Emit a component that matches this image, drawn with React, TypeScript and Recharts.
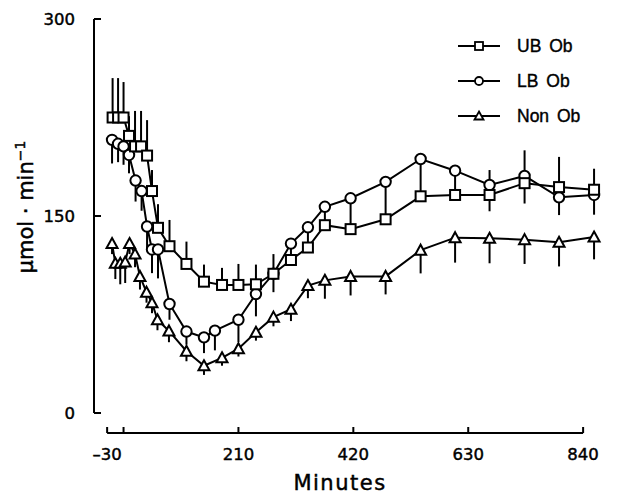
import React from 'react';
import { LineChart, Line, XAxis, YAxis, ErrorBar, ReferenceLine, Legend } from 'recharts';

// ---- data (minutes, µmol·min-1) ----
const ubTimes = [-20, -10, 0, 10, 21, 32, 43, 52, 63, 84, 115, 147, 180, 210, 242, 274, 306, 337, 368, 415, 479, 543, 606, 669, 733, 796, 860];
const ubMeans = [225, 225, 225, 211, 203, 203, 196, 169, 141, 127, 113.5, 100, 97.5, 97.5, 98, 106, 116.5, 126, 143, 140, 147.5, 165, 166, 166, 175, 172, 170];
const ubSE = [30, 30, 27, 15, 27, 27, 27, 16, 18, 20, 17, 13, 13, 16, 15, 15, 0, 0, 0, 0, 0, 31, 0, 19, 25, 23, 16];

const lbTimes = [-21, -10, 0, 10, 22, 33, 43, 52, 63, 84, 115, 147, 167, 210, 242, 274, 306, 337, 368, 415, 479, 543, 606, 669, 733, 796, 860];
const lbMeans = [208, 205, 203, 196.5, 177, 169, 142, 124.5, 124.5, 83, 62, 57.6, 62.7, 71, 90.6, 106, 129, 141.4, 157, 163.5, 176, 193.4, 184.5, 173.6, 180.5, 164.2, 166];
const lbSE = [18, 14, 14, 14, 16, 15, 17, 18, 22, 12, 10, 12, 15, 17, 17, 14, 12.7, 15.2, 14, 23.6, 28.7, 0, 18.5, 20, 21, 13.5, 15];

const nonTimes = [-21, -15, -6, 3, 11, 21, 30, 42, 52, 62, 83, 115, 147, 180, 210, 242, 274, 306, 337, 368, 415, 479, 543, 606, 669, 733, 796, 860];
const nonMeans = [129, 114, 114, 115, 129, 121, 104, 92, 84, 71, 62.5, 47, 36, 42, 49, 61.5, 73, 79, 97, 101, 104, 104, 124, 133.5, 133, 132, 130, 134];
const nonSE = [8, 12, 16, 16, 8, 10, 10, 8, 8, 8, 8.6, 7.6, 7, 6, 6, 6.4, 7, 9, 9.6, 14, 14.5, 13.7, 17.7, 19, 19, 18.5, 18.4, 17];

const xTicks = [-30, 0, 210, 420, 630, 840];
const xTickLabels = ['–30', '', '210', '420', '630', '840'];
const yTicks = [0, 150, 300];
const seriesNames = ['UB Ob', 'LB Ob', 'Non Ob'];
const xTitle = 'Minutes';

const ubData = ubTimes.map((t, i) => ({ t, v: ubMeans[i], err: [0, ubSE[i]] }));
const lbData = lbTimes.map((t, i) => ({ t, v: lbMeans[i], err: [lbSE[i], 0] }));
const nonData = nonTimes.map((t, i) => ({ t, v: nonMeans[i], err: [nonSE[i], 0] }));

const FONT = '"DejaVu Sans", sans-serif';
const X_AXIS_DROP = -15.23; // value where the detached x-axis line sits

const SquareDot = (p: any) => (
  <rect key={p.key} x={p.cx - 5} y={p.cy - 5} width={10} height={10} fill="#fff" stroke="#000" strokeWidth={2} />
);
const CircleDot = (p: any) => (
  <circle key={p.key} cx={p.cx} cy={p.cy} r={5.2} fill="#fff" stroke="#000" strokeWidth={2} />
);
const TriDot = (p: any) => (
  <path key={p.key} d={`M${p.cx},${p.cy - 5.5} L${p.cx + 5.5},${p.cy + 4.5} L${p.cx - 5.5},${p.cy + 4.5} Z`} fill="#fff" stroke="#000" strokeWidth={2} strokeLinejoin="miter" />
);

const textStyle = { fontFamily: FONT, fill: '#000', stroke: '#000', strokeWidth: 0.45 };

const XTick = (props: any) => {
  const { x, y, payload } = props;
  const idx = xTicks.indexOf(payload.value);
  const label = idx >= 0 ? xTickLabels[idx] : '';
  return (
    <g>
      <line x1={x} x2={x} y1={y + 14} y2={y + 20} stroke="#000" strokeWidth={2} />
      {label ? (
        <text x={x} y={y + 47} textAnchor="middle" fontSize={16.5} style={textStyle}>
          {label}
        </text>
      ) : null}
    </g>
  );
};

const YTick = (props: any) => {
  const { x, y, payload } = props;
  return (
    <g>
      <line x1={x} x2={x + 7} y1={y} y2={y} stroke="#000" strokeWidth={2} />
      <text x={x - 19} y={y} dy="0.36em" textAnchor="end" fontSize={16.5} style={textStyle}>
        {payload.value}
      </text>
    </g>
  );
};

const legendShapes = [
  (c: number) => <rect x={c - 4} y={3} width={8} height={8} fill="#fff" stroke="#000" strokeWidth={1.8} />,
  (c: number) => <circle cx={c} cy={7} r={4} fill="#fff" stroke="#000" strokeWidth={1.8} />,
  (c: number) => <path d={`M${c},2.5 L${c + 4.5},10.5 L${c - 4.5},10.5 Z`} fill="#fff" stroke="#000" strokeWidth={1.8} />,
];

const LegendBox = () => (
  <div style={{ fontFamily: '"Liberation Sans", Arial, sans-serif', fontSize: 17.5, color: '#000', WebkitTextStroke: '0.4px #000' }}>
    {seriesNames.map((name, i) => (
      <div key={name} style={{ display: 'flex', alignItems: 'center', height: 35 }}>
        <svg width={42} height={14} style={{ display: 'block' }}>
          <line x1={0} x2={42} y1={7} y2={7} stroke="#000" strokeWidth={2} />
          {legendShapes[i](21)}
        </svg>
        <span style={{ marginLeft: 17, wordSpacing: 3, lineHeight: '20px' }}>{name}</span>
      </div>
    ))}
  </div>
);

export default function App() {
  return (
    <div style={{ position: 'absolute', left: 0, top: 0, background: '#fff' }}>
      <LineChart width={630} height={496} margin={{ top: 19, right: 25, bottom: 0, left: 0 }}>
        <XAxis
          type="number"
          dataKey="t"
          domain={[-54, 880]}
          ticks={xTicks}
          interval={0}
          axisLine={false}
          tickLine={false}
          tickSize={0}
          tickMargin={0}
          height={83}
          tick={<XTick />}
          label={{
            content: () => (
              <text x={340} y={490} textAnchor="middle" fontSize={21} letterSpacing={1.5} style={textStyle}>
                {xTitle}
              </text>
            ),
          }}
        />
        <YAxis
          type="number"
          domain={[0, 300]}
          ticks={yTicks}
          interval={0}
          width={94}
          axisLine={{ stroke: '#000', strokeWidth: 2 }}
          tickLine={false}
          tickSize={0}
          tickMargin={0}
          tick={<YTick />}
          label={{
            content: () => (
              <text transform="translate(33,207) rotate(-90)" textAnchor="middle" fontSize={21} style={textStyle}>
                μmol · min
                <tspan dy={-8} fontSize={14}>−1</tspan>
              </text>
            ),
          }}
        />
        <ReferenceLine
          segment={[{ x: -30, y: X_AXIS_DROP }, { x: 840, y: X_AXIS_DROP }]}
          stroke="#000"
          strokeWidth={2}
          ifOverflow="visible"
        />
        <Legend
          layout="horizontal"
          verticalAlign="middle"
          align="center"
          content={<LegendBox />}
          wrapperStyle={{ left: 458, top: 28.5, width: 160, height: 105 }}
        />
        <Line
          data={nonData}
          dataKey="v"
          name={seriesNames[2]}
          type="linear"
          stroke="#000"
          strokeWidth={2}
          dot={TriDot}
          activeDot={false}
          isAnimationActive={false}
        >
          <ErrorBar dataKey="err" direction="y" width={0} stroke="#000" strokeWidth={2} />
        </Line>
        <Line
          data={lbData}
          dataKey="v"
          name={seriesNames[1]}
          type="linear"
          stroke="#000"
          strokeWidth={2}
          dot={CircleDot}
          activeDot={false}
          isAnimationActive={false}
        >
          <ErrorBar dataKey="err" direction="y" width={0} stroke="#000" strokeWidth={2} />
        </Line>
        <Line
          data={ubData}
          dataKey="v"
          name={seriesNames[0]}
          type="linear"
          stroke="#000"
          strokeWidth={2}
          dot={SquareDot}
          activeDot={false}
          isAnimationActive={false}
        >
          <ErrorBar dataKey="err" direction="y" width={0} stroke="#000" strokeWidth={2} />
        </Line>
      </LineChart>
    </div>
  );
}
